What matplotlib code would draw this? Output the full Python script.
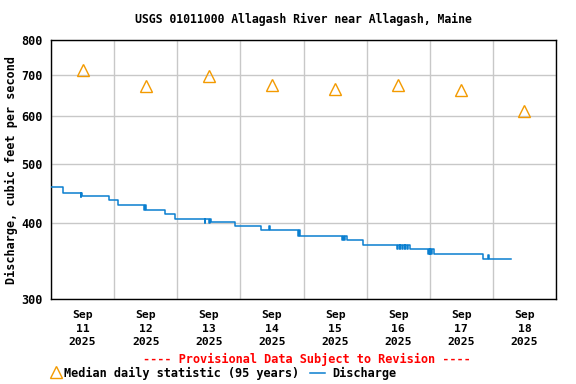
import matplotlib
matplotlib.use('Agg')
import matplotlib.pyplot as plt
import matplotlib.dates as mdates
import matplotlib.ticker as mticker
from datetime import datetime, timedelta

plt.rcParams['font.family'] = ['DejaVu Sans Mono']
plt.rcParams['font.weight'] = 'bold'
plt.rcParams['axes.titleweight'] = 'bold'
plt.rcParams['axes.labelweight'] = 'bold'

START = datetime(2025, 9, 11)

# median daily statistic, one value per day at noon
median_days = [11, 12, 13, 14, 15, 16, 17, 18]
median_cfs = [714, 672, 698, 675, 664, 675, 662, 612]

# discharge: (hours since Sep 11 00:00, cfs) step breakpoints
q_hours = [0.0, 4.6, 11.25, 11.5, 11.75, 22.1, 25.6, 35.5, 35.75, 36.0,
           43.4, 47.2, 58.4, 58.7, 60.2, 60.5, 60.8, 69.8, 79.9, 83.0,
           83.25, 94.0, 94.25, 94.75, 110.6, 110.9, 111.5, 111.75, 112.4,
           118.8, 131.7, 132.0, 132.5, 132.75, 133.5, 133.75, 134.5,
           134.75, 135.5, 135.75, 136.4, 143.5, 143.75, 144.0, 144.25,
           144.5, 144.75, 145.5, 164.1, 166.2, 166.5, 174.9]
q_cfs = [458, 449, 442, 449, 443, 436, 429, 421, 429, 421,
         414, 406, 400, 406, 400, 406, 401, 396, 389, 395,
         389, 381, 389, 381, 375, 381, 375, 381, 375,
         367.5, 362, 367.5, 362, 367.5, 362, 367.5, 362,
         367.5, 362, 367.5, 362, 356, 362, 356, 362,
         356, 362, 356, 348.5, 355, 348.5, 348.5]

y_ticks = [300, 400, 500, 600, 700, 800]

fig = plt.figure(figsize=(5.76, 3.84), dpi=100)
ax = fig.add_axes([51 / 576, 1 - 299 / 384, 505 / 576, 259 / 384])

q_times = [START + timedelta(hours=h) for h in q_hours]
ax.plot(q_times, q_cfs, drawstyle='steps-post', color='#0a7fd0', lw=1.1,
        zorder=3)

m_times = [datetime(2025, 9, d, 12) for d in median_days]
ax.plot(m_times, median_cfs, ls='none', marker='^', ms=8,
        mfc='none', mec='#f39a00', mew=1.0, zorder=4)

ax.set_yscale('log')
ax.set_ylim(300, 800)
ax.yaxis.set_major_locator(mticker.FixedLocator(y_ticks))
ax.yaxis.set_major_formatter(mticker.FixedFormatter([str(v) for v in y_ticks]))
ax.yaxis.set_minor_locator(mticker.NullLocator())

ax.set_xlim(START, START + timedelta(days=8))
ax.xaxis.set_major_locator(mdates.DayLocator())
ax.xaxis.set_major_formatter(mticker.NullFormatter())
ax.xaxis.set_minor_locator(mdates.HourLocator(byhour=12))
ax.xaxis.set_minor_formatter(mdates.DateFormatter('%b\n%d\n%Y'))

ax.grid(True, which='major', color='#c8c8c8', lw=1)
ax.set_axisbelow(True)
ax.tick_params(which='both', length=0, pad=4)
ax.tick_params(axis='y', labelsize=8.5, pad=6)
ax.tick_params(axis='x', which='minor', labelsize=8.2, pad=8)
for lab in ax.get_xticklabels(minor=True):
    lab.set_linespacing(1.45)
for sp in ax.spines.values():
    sp.set_linewidth(1)

ax.set_ylabel('Discharge, cubic feet per second', fontsize=8.5)
ax.yaxis.set_label_coords(-0.066, 0.5)
ax.set_title('USGS 01011000 Allagash River near Allagash, Maine',
             fontsize=8.3, pad=12)

fig.text(307 / 576, 1 - 359 / 384, '---- Provisional Data Subject to Revision ----',
         color='red', fontsize=8.6, ha='center', va='center')

fig.text(64 / 576, 1 - 373 / 384, 'Median daily statistic (95 years)',
         fontsize=8.6, ha='left', va='center')
fig.text(332 / 576, 1 - 373 / 384, 'Discharge',
         fontsize=8.6, ha='left', va='center')
fig.lines.append(plt.Line2D([56 / 576], [1 - 372 / 384], marker='^', ms=8,
                            mfc='none', mec='#f39a00', ls='none',
                            transform=fig.transFigure))
fig.lines.append(plt.Line2D([310 / 576, 325 / 576], [1 - 373 / 384] * 2,
                            color='#0a7fd0', lw=1.1, transform=fig.transFigure))

fig.savefig('out.png', dpi=100)
